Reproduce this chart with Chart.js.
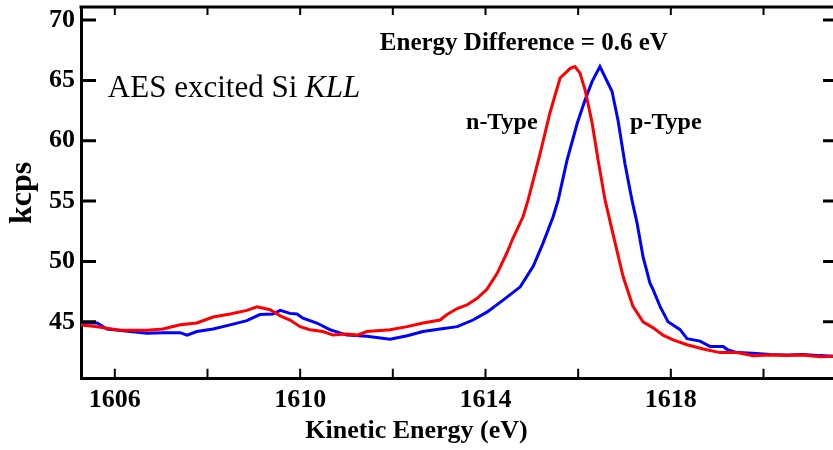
<!DOCTYPE html>
<html lang="en">
<head>
	<meta charset="UTF-8">
	<title>AES excited Si KLL</title>
	<script src="https://cdn.jsdelivr.net/npm/chart.js"></script>
	<style>
		html, body { margin: 0; padding: 0; background: #fff; }
	</style>
</head>
<body>
	<canvas id="myChart" width="833" height="450"></canvas>

	<script>
		// n-Type trace (red)
		const nEnergy = [1605.25, 1605.62, 1606.11, 1606.69, 1607.04, 1607.41, 1607.77, 1608.12, 1608.49, 1608.85,
			1609.07, 1609.35, 1609.57, 1609.78, 1610.0, 1610.21, 1610.49, 1610.71, 1611.01, 1611.23,
			1611.44, 1611.94, 1612.31, 1612.65, 1613.02, 1613.17, 1613.39, 1613.6, 1613.82, 1614.03,
			1614.25, 1614.46, 1614.59, 1614.81, 1614.92, 1615.18, 1615.39, 1615.61, 1615.83, 1615.93,
			1616.04, 1616.15, 1616.3, 1616.43, 1616.58, 1616.75, 1616.97, 1617.18, 1617.4, 1617.62,
			1617.83, 1618.05, 1618.35, 1618.7, 1619.06, 1619.43, 1619.77, 1620.14, 1620.51, 1620.85,
			1621.22, 1621.5];
		const nCounts = [44.75, 44.6, 44.3, 44.3, 44.4, 44.75, 44.9, 45.4, 45.65, 45.95,
			46.25, 46.0, 45.5, 45.15, 44.6, 44.35, 44.2, 43.9, 44.0, 43.9,
			44.2, 44.35, 44.6, 44.9, 45.15, 45.6, 46.1, 46.4, 46.95, 47.7,
			49.0, 50.7, 51.9, 53.7, 55.1, 58.95, 62.3, 65.2, 66.0, 66.15,
			65.6, 64.2, 61.5, 58.4, 55.1, 52.3, 48.75, 46.3, 45.0, 44.5,
			43.9, 43.5, 43.1, 42.75, 42.45, 42.45, 42.2, 42.25, 42.2, 42.25,
			42.1, 42.15];

		// p-Type trace (blue)
		const pEnergy = [1605.25, 1605.62, 1605.83, 1606.33, 1606.69, 1607.04, 1607.41, 1607.56, 1607.77, 1608.12,
			1608.49, 1608.85, 1609.13, 1609.41, 1609.57, 1609.78, 1609.93, 1610.06, 1610.36, 1610.64,
			1611.01, 1611.44, 1611.94, 1612.31, 1612.65, 1613.02, 1613.39, 1613.73, 1614.03, 1614.38,
			1614.75, 1615.03, 1615.24, 1615.46, 1615.57, 1615.76, 1615.98, 1616.15, 1616.3, 1616.47,
			1616.73, 1616.86, 1617.01, 1617.16, 1617.27, 1617.4, 1617.55, 1617.62, 1617.77, 1617.94,
			1618.2, 1618.35, 1618.63, 1618.85, 1619.13, 1619.22, 1619.43, 1619.77, 1620.14, 1620.51,
			1620.85, 1621.22, 1621.5];
		const pCounts = [44.9, 44.9, 44.4, 44.2, 44.05, 44.1, 44.1, 43.9, 44.2, 44.4,
			44.75, 45.1, 45.6, 45.65, 45.95, 45.7, 45.65, 45.3, 44.9, 44.35,
			43.9, 43.8, 43.55, 43.85, 44.2, 44.4, 44.6, 45.15, 45.8, 46.8,
			47.9, 49.6, 51.5, 53.7, 55.1, 58.4, 61.45, 63.4, 64.9, 66.15,
			64.1, 61.7, 58.1, 55.1, 53.2, 50.4, 48.2, 47.65, 46.25, 45.0,
			44.35, 43.6, 43.4, 42.95, 42.95, 42.7, 42.45, 42.4, 42.3, 42.25,
			42.3, 42.2, 42.15];

		const xTicks = [1606, 1608, 1610, 1612, 1614, 1616, 1618, 1620];
		const xLabels = [1606, 1610, 1614, 1618];
		const yTicks = [45, 50, 55, 60, 65, 70];

		const serif = '"Liberation Serif", "Times New Roman", serif';

		// inward tick marks, top border and the text notes
		const framePlugin = {
			id: 'frame',
			afterDraw(chart) {
				const { ctx, chartArea: a, scales: { x, y } } = chart;
				ctx.save();
				ctx.strokeStyle = '#000';
				ctx.lineWidth = 3;
				ctx.beginPath();
				ctx.moveTo(a.left - 1.5, a.top);
				ctx.lineTo(a.right, a.top);
				yTicks.forEach(v => {
					const py = y.getPixelForValue(v);
					ctx.moveTo(a.left, py);
					ctx.lineTo(a.left + 15, py);
					ctx.moveTo(a.right, py);
					ctx.lineTo(a.right - 10, py);
				});
				ctx.stroke();
				ctx.lineWidth = 2;
				ctx.beginPath();
				xTicks.forEach(v => {
					const px = x.getPixelForValue(v);
					ctx.moveTo(px, a.top);
					ctx.lineTo(px, a.top + 8);
					ctx.moveTo(px, a.bottom);
					ctx.lineTo(px, a.bottom - 10);
				});
				ctx.stroke();

				ctx.fillStyle = '#000';
				ctx.textBaseline = 'alphabetic';
				ctx.textAlign = 'left';
				// AES excited Si KLL
				let tx = x.getPixelForValue(1605.85);
				const ty = y.getPixelForValue(63.63);
				ctx.font = '31px ' + serif;
				ctx.fillText('AES excited Si ', tx, ty);
				tx += ctx.measureText('AES excited Si ').width;
				ctx.font = 'italic 31px ' + serif;
				ctx.fillText('KLL', tx, ty);

				ctx.font = 'bold 25px ' + serif;
				ctx.fillText('Energy Difference = 0.6 eV', x.getPixelForValue(1611.72), y.getPixelForValue(67.52));
				ctx.font = 'bold 24px ' + serif;
				ctx.fillText('n-Type', x.getPixelForValue(1613.58), y.getPixelForValue(60.98));
				ctx.fillText('p-Type', x.getPixelForValue(1617.12), y.getPixelForValue(60.98));
				ctx.restore();
			}
		};

		const ctx = document.getElementById('myChart');

		new Chart(ctx, {
			type: 'line',
			data: {
				datasets: [{
					label: 'n-Type',
					data: nEnergy.map((e, i) => ({ x: e, y: nCounts[i] })),
					borderColor: '#ff0000',
					borderWidth: 3,
					pointRadius: 0,
					tension: 0
				}, {
					label: 'p-Type',
					data: pEnergy.map((e, i) => ({ x: e, y: pCounts[i] })),
					borderColor: '#0000ff',
					borderWidth: 3,
					pointRadius: 0,
					tension: 0
				}]
			},
			options: {
				responsive: false,
				animation: false,
				layout: { padding: { top: 7, left: 0, right: 0, bottom: 0 } },
				plugins: {
					legend: { display: false },
					tooltip: { enabled: false },
					title: {
						display: true,
						position: 'bottom',
						text: 'Kinetic Energy (eV)',
						color: '#000',
						font: { family: serif, size: 26, weight: 'bold' },
						padding: { top: 0, bottom: 3 }
					}
				},
				scales: {
					x: {
						type: 'linear',
						min: 1605.27,
						max: 1621.5,
						afterBuildTicks: s => { s.ticks = xTicks.map(v => ({ value: v })); },
						afterFit: s => { s.height = 37; s.paddingLeft = 0; s.paddingRight = 0; },
						grid: { display: false, drawTicks: false },
						border: { color: '#000', width: 3 },
						ticks: {
							autoSkip: false,
							maxRotation: 0,
							padding: 6,
							color: '#000',
							font: { family: serif, size: 26, weight: 'bold' },
							callback: v => xLabels.includes(v) ? String(v) : ''
						}
					},
					y: {
						min: 40.28,
						max: 71.08,
						afterBuildTicks: s => { s.ticks = yTicks.map(v => ({ value: v })); },
						afterFit: s => { s.width = 81; s.paddingTop = 0; s.paddingBottom = 0; },
						grid: { display: false, drawTicks: false },
						border: { color: '#000', width: 3 },
						ticks: {
							padding: 6,
							color: '#000',
							font: { family: serif, size: 26, weight: 'bold' },
							callback: v => String(v)
						},
						title: {
							display: true,
							text: 'kcps',
							color: '#000',
							font: { family: serif, size: 32, weight: 'bold' },
							padding: { top: 4, bottom: 0 }
						}
					}
				}
			},
			plugins: [framePlugin]
		});
	</script>
</body>
</html>
